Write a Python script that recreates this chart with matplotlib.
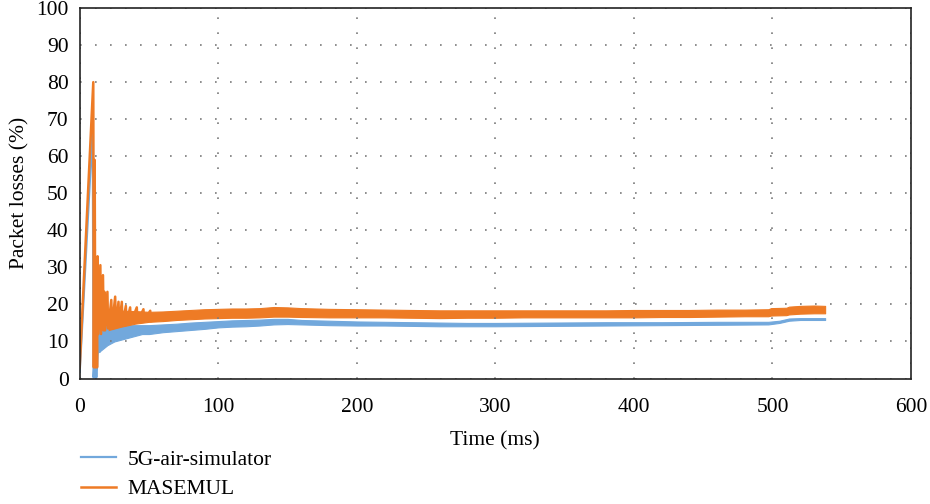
"""
Packet losses over time: 5G-air-simulator vs MASEMUL.
"""

import numpy as np
import matplotlib.pyplot as plt

# early spiky part of each series (time in ms, losses in %)
blue_early_t = [0, 9.4, 10.0, 10.5, 11.0, 11.5, 12.0, 12.5, 13.0, 14.0, 14.5,
                16.0, 16.5, 18.0, 18.5, 20.0, 20.5]
blue_early_v = [1.8, 68, 0.3, 3, 0.3, 3, 0.3, 3, 7, 13, 7.2,
                13.5, 8.5, 13.5, 9, 14, 9.6]

orange_early_t = [0, 9.8, 10.2, 10.8, 11.3, 12.0, 12.5, 12.9, 13.4, 14.9, 15.4,
                  16.8, 17.3, 17.8, 18.3, 20.0, 20.5, 22.8, 23.3, 25.6, 26.1,
                  28.0, 28.5, 30.4, 30.9, 33.3, 33.8, 36.4, 36.9, 41.2, 41.7,
                  46.0, 46.5, 50.9, 51.4]
orange_early_v = [3, 80, 3, 59, 3, 30, 3, 33, 12, 30.6, 12,
                  27.9, 13, 23.4, 13, 23.4, 13.5, 21.2, 14, 22.1, 14,
                  20.7, 14.5, 20.7, 14.5, 19.6, 15, 19.2, 15, 19.2, 15.3,
                  18.7, 15.5, 18.3, 15.5]

# envelope (low / high) of the fast-oscillating band afterwards
blue_t = [13, 15, 20, 25, 30, 35, 40, 45, 50, 60, 70, 80, 90, 100, 110, 120,
          130, 140, 150, 160, 180, 200, 220, 240, 260, 280, 300, 340, 380,
          420, 460, 497, 505, 512, 520, 530, 538]
blue_lo = [7, 7.5, 9, 10, 10.5, 11, 11.5, 12, 12, 12.5, 12.8, 13.1, 13.4, 13.8,
           14, 14.1, 14.3, 14.6, 14.7, 14.6, 14.4, 14.3, 14.3, 14.2, 14.1, 14.1,
           14.1, 14.2, 14.3, 14.4, 14.5, 14.6, 15.0, 15.6, 15.8, 15.8, 15.8]
blue_hi = [14, 14, 14, 14.2, 14.3, 14.4, 14.4, 14.4, 14.4, 14.6, 14.8, 15.1,
           15.3, 15.5, 15.7, 15.8, 15.9, 16.1, 16.1, 15.8, 15.6, 15.4, 15.3,
           15.2, 15.1, 15.0, 15.0, 15.1, 15.2, 15.2, 15.3, 15.3, 15.6, 16.2,
           16.3, 16.3, 16.3]

orange_t = [12, 15, 20, 25, 30, 40, 50, 60, 70, 80, 90, 100, 110, 120, 130,
            140, 150, 160, 180, 200, 220, 240, 260, 280, 300, 320, 340, 360,
            380, 400, 420, 440, 460, 480, 497, 499, 510, 512, 520, 530, 538]
orange_lo = [11, 12, 13, 13.5, 14, 14.8, 15.3, 15.5, 15.8, 16, 16.2, 16.3,
             16.4, 16.4, 16.5, 16.7, 16.7, 16.6, 16.5, 16.5, 16.5, 16.4, 16.3,
             16.4, 16.4, 16.5, 16.5, 16.5, 16.5, 16.5, 16.6, 16.6, 16.7, 16.8,
             16.8, 17.0, 17.1, 17.3, 17.5, 17.6, 17.6]
orange_hi = [19, 19, 18.5, 18.5, 18.3, 18.2, 18.0, 18.1, 18.3, 18.5, 18.7,
             18.8, 18.9, 18.9, 19.0, 19.3, 19.2, 19.0, 18.8, 18.7, 18.6, 18.5,
             18.4, 18.4, 18.4, 18.4, 18.4, 18.4, 18.4, 18.5, 18.5, 18.5, 18.6,
             18.6, 18.7, 19.0, 19.1, 19.4, 19.6, 19.7, 19.6]

BLUE = "#72A8DC"
ORANGE = "#EE7B25"
FS = 15.5

plt.rcParams["font.family"] = ["Liberation Serif", "DejaVu Serif"]
plt.rcParams["font.size"] = FS

fig = plt.figure(figsize=(9.3, 5.04), dpi=100)
ax = fig.add_axes([0.0857, 0.249, 0.8939, 0.735])

ax.fill_between(blue_t, blue_lo, blue_hi, color=BLUE, lw=0.8)
ax.plot(blue_early_t, blue_early_v, color=BLUE, lw=1.6, label="5G-air-simulator")
ax.fill_between(orange_t, orange_lo, orange_hi, color=ORANGE, lw=0.8)
ax.plot(orange_early_t, orange_early_v, color=ORANGE, lw=1.8, label="MASEMUL")

ax.set_xlim(0, 600)
ax.set_ylim(0, 100)
ax.set_xticks(np.arange(0, 601, 100))
ax.set_yticks(np.arange(0, 101, 10))
ax.tick_params(axis="x", length=0, pad=14, labelsize=FS)
ax.tick_params(axis="y", length=0, pad=8, labelsize=FS)
ax.grid(True, color="#7a7a7a", linestyle=(0, (1, 8)), linewidth=1.2)
for s in ax.spines.values():
    s.set_linewidth(1.2)
    s.set_color("#222222")

ax.set_xlabel("Time (ms)", fontsize=FS, labelpad=10)
ax.set_ylabel("Packet losses (%)", fontsize=FS, labelpad=5)

fig.legend(loc="upper left", bbox_to_anchor=(0.078, 0.125), frameon=False,
           handlelength=1.6, handletextpad=0.55, labelspacing=0.45,
           borderaxespad=0, fontsize=FS)

fig.savefig("out.png", dpi=100)
